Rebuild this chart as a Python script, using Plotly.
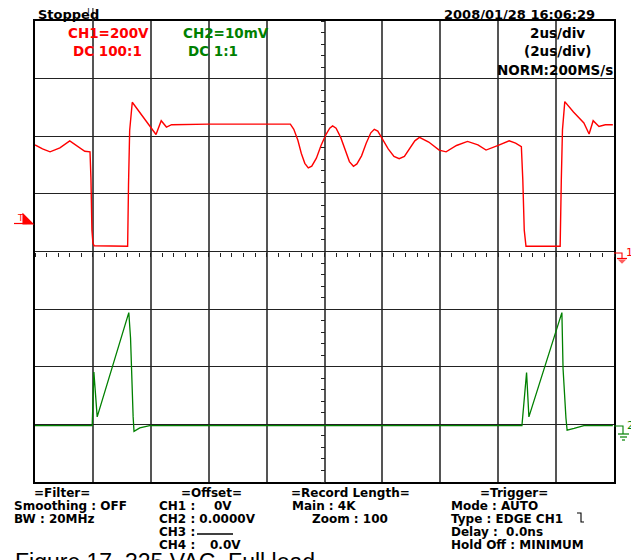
import plotly.graph_objects as go

# ---- data (time in divisions, amplitude in divisions) ----
red_t = [0.00, 0.13, 0.26, 0.43, 0.60, 0.72, 0.86, 0.95, 0.966, 0.983, 1.00, 1.02, 1.30, 1.60,
         1.615, 1.635, 1.68, 1.80, 1.93, 2.09, 2.18, 2.27, 2.36, 3.00, 4.00, 4.41,
         4.47, 4.54, 4.60, 4.66, 4.72, 4.78, 4.86, 4.94, 5.02, 5.09, 5.14, 5.20, 5.28, 5.36,
         5.43, 5.50, 5.56, 5.64, 5.72, 5.80, 5.86, 5.92, 6.00, 6.10, 6.20, 6.29, 6.38, 6.47,
         6.56, 6.64, 6.80, 6.98, 7.10, 7.28, 7.47,
         7.65, 7.79, 8.00, 8.19, 8.30, 8.40, 8.425, 8.45, 8.48, 8.80, 9.07,
         9.09, 9.11, 9.15, 9.30, 9.48, 9.57, 9.64, 9.74, 9.85, 9.98]
red_v = [1.85, 1.78, 1.73, 1.80, 1.92, 1.84, 1.74, 1.73, 1.28, 0.37, 0.15, 0.10, 0.09, 0.09,
         1.15, 2.10, 2.59, 2.42, 2.24, 2.03, 2.27, 2.16, 2.20, 2.21, 2.21, 2.21,
         2.12, 1.93, 1.70, 1.53, 1.45, 1.48, 1.62, 1.84, 2.02, 2.14, 2.18, 2.14, 1.98, 1.75,
         1.56, 1.48, 1.52, 1.66, 1.88, 2.06, 2.12, 2.09, 1.96, 1.78, 1.65, 1.61, 1.65, 1.78,
         1.92, 1.98, 1.90, 1.76, 1.73, 1.84, 1.91,
         1.85, 1.76, 1.84, 1.92, 1.88, 1.82, 1.24, 0.37, 0.09, 0.09, 0.09,
         1.24, 2.11, 2.60, 2.42, 2.23, 2.04, 2.27, 2.17, 2.20, 2.20]

green_t = [0.00, 0.50, 0.988, 1.017, 1.074, 1.62, 1.65, 1.695, 1.71, 1.81, 1.98,
           5.00, 8.41, 8.49, 8.53, 9.10, 9.12, 9.17, 9.19, 9.31, 9.48, 9.98]
green_v = [-3.02, -3.02, -3.02, -2.09, -2.87, -1.06, -1.50, -2.87, -3.12, -3.06, -3.02,
           -3.02, -3.02, -2.10, -2.87, -1.06, -2.03, -2.89, -3.10, -3.07, -3.02, -3.02]

header_left = "Stopped"
header_right = "2008/01/28 16:06:29"
ch1_lines = ["CH1=200V", "DC 100:1"]
ch2_lines = ["CH2=10mV", "DC 1:1"]
time_lines = ["2us/div", "(2us/div)", "NORM:200MS/s"]
caption = "Figure 17. 325 VAC, Full load"

RED = "#ff0000"
GREEN = "#008000"

# page offset of the figure (browser body margin) and plot area in page pixels
OFF = 8
L, R, T, B = 35, 614, 21, 482
PAGE_W, PAGE_H = 639, 560
W, H = PAGE_W - OFF, PAGE_H - OFF


def X(px):
    return (px - L) / (R - L)


def Y(py):
    return (B - py) / (B - T)


fig = go.Figure()
fig.add_trace(go.Scatter(x=red_t, y=red_v, mode="lines", line=dict(color=RED, width=1.4),
                         showlegend=False, hoverinfo="skip"))
fig.add_trace(go.Scatter(x=green_t, y=green_v, mode="lines", line=dict(color=GREEN, width=1.3),
                         showlegend=False, hoverinfo="skip"))
fig.add_trace(go.Scatter(x=[None], y=[None], xaxis="x2", yaxis="y2", showlegend=False,
                         hoverinfo="skip"))

axis_common = dict(showticklabels=False, ticks="", showline=True, linecolor="#000",
                   linewidth=1.5, mirror=True, zeroline=False, fixedrange=True)
fig.update_layout(
    width=W, height=H,
    margin=dict(l=L - OFF, r=PAGE_W - R, t=T - OFF, b=PAGE_H - B, pad=0),
    plot_bgcolor="white", paper_bgcolor="white",
    xaxis=dict(range=[0, 10], tick0=0, dtick=1, showgrid=True, gridcolor="#555",
               gridwidth=1.6, **axis_common),
    yaxis=dict(range=[-4, 4], tick0=0, dtick=1, showgrid=True, gridcolor="#222",
               gridwidth=1.3, **axis_common),
    xaxis2=dict(overlaying="x", anchor="free", position=0.5, range=[0, 10], tick0=0,
                dtick=0.2, ticks="outside", ticklen=4, tickwidth=1.2, tickcolor="#222",
                showticklabels=False, showgrid=False, zeroline=False, showline=False,
                side="bottom", fixedrange=True),
    yaxis2=dict(overlaying="y", anchor="free", position=0.5, range=[-4, 4], tick0=0,
                dtick=0.2, ticks="outside", ticklen=4, tickwidth=1.2, tickcolor="#222",
                showticklabels=False, showgrid=False, zeroline=False, showline=False,
                side="left", fixedrange=True),
    font=dict(family="DejaVu Sans", color="black"),
)

anns = []


def ann(text, px, py, anchor="left", color="black", size=12, bold=True, family="DejaVu Sans"):
    anns.append(dict(text=text, x=X(px), y=Y(py), xref="paper", yref="paper",
                     xanchor=anchor, yanchor="middle", showarrow=False,
                     font=dict(family=family, size=size, color=color,
                               weight="bold" if bold else "normal")))


# header
ann(header_left, 36, 14, "left", size=13)
ann(header_right, 597, 14, "right", size=13)
ann("T", 88, 11, "center", size=8, bold=False)
ann(ch1_lines[0], 66, 33, "left", RED, 13.5)
ann(ch1_lines[1], 71, 51, "left", RED, 13.5)
ann(ch2_lines[0], 181, 33, "left", GREEN, 13.5)
ann(ch2_lines[1], 186, 51, "left", GREEN, 13.5)
ann(time_lines[0], 557, 33, "center", size=13.5)
ann(time_lines[1], 557, 51, "center", size=13.5)
ann(time_lines[2], 615, 70, "right", size=13.5)

# footer
rows = [493, 506, 519, 532, 545]
ann("=Filter=", 62, rows[0], "center")
ann("Smoothing : OFF", 12, rows[1], "left")
ann("BW : 20MHz", 12, rows[2], "left")
ann("=Offset=", 211, rows[0], "center")
ann("CH1 :", 157, rows[1], "left")
ann("0V", 234, rows[1], "right")
ann("CH2 : 0.0000V", 157, rows[2], "left")
ann("CH3 :", 157, rows[3], "left")
ann("CH4 :", 157, rows[4], "left")
ann("0.0V", 243, rows[4], "right")
ann("=Record Length=", 412, rows[0], "right")
ann("Main : 4K", 358, rows[1], "right")
ann("Zoom : 100", 390, rows[2], "right")
ann("=Trigger=", 514, rows[0], "center")
ann("Mode : AUTO", 449, rows[1], "left")
ann("Type : EDGE CH1", 449, rows[2], "left")
ann("Delay :  0.0ns", 449, rows[3], "left")
ann("Hold Off : MINIMUM", 449, rows[4], "left")
anns.append(dict(text=caption, x=X(13), y=Y(547), xref="paper", yref="paper",
                 xanchor="left", yanchor="top", showarrow=False,
                 font=dict(family="Liberation Sans", size=23, color="black")))

# channel markers
ann("T", 20.5, 218, "center", RED, 9, bold=False)
ann("1", 629, 252, "center", RED, 11, bold=False)
ann("2", 630, 425, "center", GREEN, 11, bold=False)
fig.update_layout(annotations=anns)

shapes = []


def seg(x0, y0, x1, y1, color, width=1.2):
    shapes.append(dict(type="line", xref="paper", yref="paper", x0=X(x0), y0=Y(y0),
                       x1=X(x1), y1=Y(y1), line=dict(color=color, width=width)))


def path(points, color, fill=None):
    d = "M " + " L ".join(f"{X(a):.5f},{Y(b):.5f}" for a, b in points)
    if fill:
        d += " Z"
    shapes.append(dict(type="path", xref="paper", yref="paper", path=d,
                       line=dict(color=color, width=1.1),
                       fillcolor=fill if fill else "rgba(0,0,0,0)"))


# trigger position line above the grid
shapes.append(dict(type="line", xref="x", yref="paper", x0=1, x1=1, y0=Y(OFF), y1=Y(T),
                   line=dict(color="#333", width=1.2)))
# left trigger-level marker
seg(14, 223.5, 27, 223.5, RED)
path([(23, 214), (33, 224), (23, 224)], RED, fill=RED)
# CH1 ground marker at right
path([(614, 253), (622, 253), (622, 258)], RED)
seg(617, 258.5, 627, 258.5, RED)
path([(619, 260), (625, 260), (622, 263)], "#ff6060", fill="#ff6060")
# CH2 ground marker at right
path([(614, 426), (623, 426), (623, 434)], GREEN)
seg(618, 434, 629, 434, GREEN)
seg(620, 437, 627, 437, GREEN)
seg(622, 440, 625, 440, GREEN)
# CH3 dash in offset section
seg(197, 534, 233, 534, "black", 1.3)
# trigger edge symbol
path([(577, 513), (581, 513), (581, 522), (584, 522)], "black")

fig.update_layout(shapes=shapes)
fig.write_html("out.html")
